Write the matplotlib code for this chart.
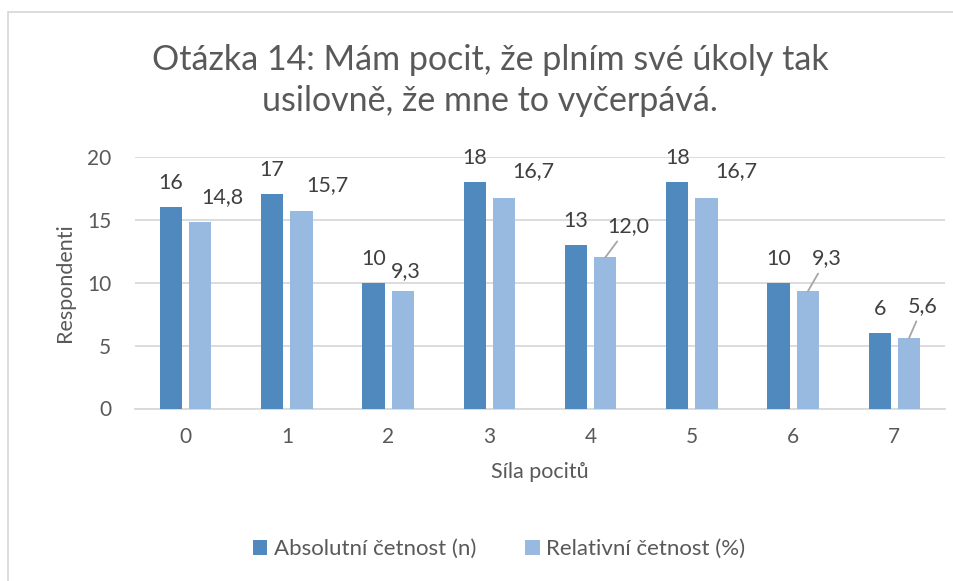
import matplotlib
matplotlib.use("Agg")
import matplotlib.pyplot as plt
from matplotlib.patches import Rectangle
import numpy as np

categories = ["0", "1", "2", "3", "4", "5", "6", "7"]
absolute = [16, 17, 10, 18, 13, 18, 10, 6]
relative = [14.8, 15.7, 9.3, 16.7, 12.0, 16.7, 9.3, 5.6]
abs_labels = ["16", "17", "10", "18", "13", "18", "10", "6"]
rel_labels = ["14,8", "15,7", "9,3", "16,7", "12,0", "16,7", "9,3", "5,6"]

# label offsets in pixels for relative-series labels (layout), leader flag
rel_offsets = [(22, 25), (26, 26), (3, 20), (29, 27), (23, 31), (30, 27), (19, 33), (14, 32)]
rel_leader = [False, False, False, False, True, False, True, True]

plt.rcParams['font.family'] = ['Lato', 'DejaVu Sans']

W, H = 954, 581
fig = plt.figure(figsize=(W / 100, H / 100), dpi=100)
ax = fig.add_axes([135 / W, 1 - 408.5 / H, (945 - 135) / W, (408.5 - 156.7) / H])

dark = "#4F89BD"
light = "#98B9E0"
txt = "#595959"
lab = "#404040"

x = np.arange(len(categories))
bw = 0.22
off = 0.145
b1 = ax.bar(x - off, absolute, bw, color=dark, label="Absolutní četnost (n)", zorder=3)
b2 = ax.bar(x + off, relative, bw, color=light, label="Relativní četnost (%)", zorder=3)

ax.set_xlim(-0.5, len(categories) - 0.5)
ax.set_ylim(0, 20)
ax.set_yticks([0, 5, 10, 15, 20])
ax.set_xticks(x)
ax.set_xticklabels(categories)
ax.grid(axis='y', color="#D9D9D9", linewidth=1.3, zorder=0)
ax.set_axisbelow(True)
for s in ["top", "right", "left"]:
    ax.spines[s].set_visible(False)
ax.spines["bottom"].set_color("#D9D9D9")
ax.spines["bottom"].set_linewidth(1.3)
ax.tick_params(axis='both', length=0, labelsize=15, labelcolor=txt)
ax.tick_params(axis='y', pad=17)
ax.tick_params(axis='x', pad=13)

ax.set_ylabel("Respondenti", fontsize=15.5, color=txt, labelpad=9)
ax.set_xlabel("Síla pocitů", fontsize=15.5, color=txt, labelpad=11)

for i, v in enumerate(absolute):
    ax.annotate(abs_labels[i], (x[i] - off, v), xytext=(0, 24), textcoords='offset pixels',
                ha='center', va='center', fontsize=15.5, color=lab)

for i, v in enumerate(relative):
    dx, dy = rel_offsets[i]
    if rel_leader[i]:
        ax.annotate(rel_labels[i], (x[i] + off, v), xytext=(dx, dy), textcoords='offset pixels',
                    ha='center', va='center', fontsize=15.5, color=lab,
                    arrowprops=dict(arrowstyle='-', color="#A6A6A6", lw=1.3,
                                    shrinkA=2, shrinkB=0))
    else:
        ax.annotate(rel_labels[i], (x[i] + off, v), xytext=(dx, dy), textcoords='offset pixels',
                    ha='center', va='center', fontsize=15.5, color=lab)

fig.text(490 / W, 1 - 60 / H, "Otázka 14: Mám pocit, že plním své úkoly tak", ha='center', va='center',
         fontsize=24.5, color=txt)
fig.text(490 / W, 1 - 101 / H, "usilovně, že mne to vyčerpává.", ha='center', va='center',
         fontsize=24.5, color=txt)

leg = fig.legend(handles=[b1, b2], loc='center', bbox_to_anchor=(499 / W, 1 - 549 / H), ncol=2,
                 frameon=False, fontsize=16, handlelength=0.65, handleheight=0.65,
                 handletextpad=0.3, columnspacing=2.2)
for t in leg.get_texts():
    t.set_color(txt)

fig.patches.append(Rectangle((8 / W, -0.1), 1.2, 1 - 12 / H + 0.1, transform=fig.transFigure,
                             fill=False, edgecolor="#D9D9D9", linewidth=1.3))

fig.savefig("out.png", dpi=100, facecolor="white")
